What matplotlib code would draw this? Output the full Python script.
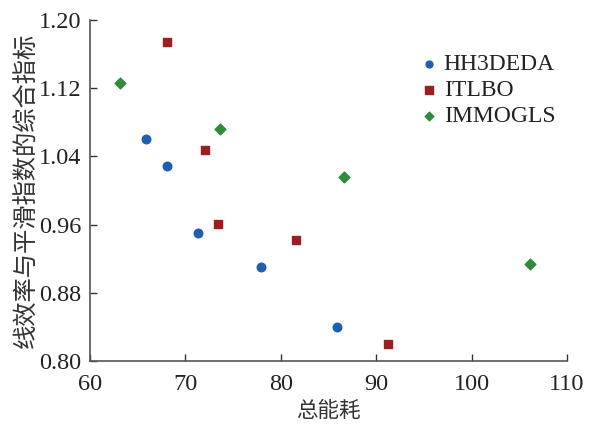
import matplotlib
matplotlib.use("Agg")
import matplotlib.pyplot as plt

# data
hh3_x = [65.9, 68.1, 71.3, 77.9, 85.9]
hh3_y = [1.060, 1.029, 0.950, 0.910, 0.840]
itlbo_x = [68.1, 72.1, 73.4, 81.6, 91.2]
itlbo_y = [1.174, 1.048, 0.961, 0.942, 0.820]
immo_x = [63.1, 73.6, 86.6, 106.1]
immo_y = [1.126, 1.072, 1.016, 0.914]

x_ticks = [60, 70, 80, 90, 100, 110]
y_ticks = [0.80, 0.88, 0.96, 1.04, 1.12, 1.20]

serif = ['Liberation Serif', 'DejaVu Serif']
cjk = ['Noto Sans CJK SC', 'DejaVu Sans']

fig = plt.figure(figsize=(5.89, 4.24), dpi=100)
ax = fig.add_axes([90 / 589, 1 - 361 / 424, (567 - 90) / 589, (361 - 20) / 424])

ax.scatter(hh3_x, hh3_y, marker='o', s=38, color='#1f5fb0', label='HH3DEDA', zorder=3)
ax.scatter(itlbo_x, itlbo_y, marker='s', s=40, color='#9b1f22', label='ITLBO', zorder=3)
ax.scatter(immo_x, immo_y, marker='D', s=30, color='#2e8b3a', label='IMMOGLS', zorder=3)

ax.set_xlim(60, 110)
ax.set_ylim(0.80, 1.20)
ax.set_xticks(x_ticks)
ax.set_yticks(y_ticks)
ax.set_xticklabels([str(v) for v in x_ticks], family=serif, fontsize=17.5)
ax.set_yticklabels([f"{v:.2f}" for v in y_ticks], family=serif, fontsize=17.5)
ax.tick_params(direction='in', length=5, width=1, colors='#333333', labelcolor='#222222')
ax.tick_params(axis='x', pad=9)
ax.tick_params(axis='y', pad=6)

for side in ['top', 'right']:
    ax.spines[side].set_visible(False)
for side in ['left', 'bottom']:
    ax.spines[side].set_color('#555555')
    ax.spines[side].set_linewidth(1.2)

ax.set_xlabel('总能耗', family=cjk, fontsize=15.5, color='#333333', labelpad=4)
ax.set_ylabel('线效率与平滑指数的综合指标', family=cjk, fontsize=17.5, color='#333333')
ax.yaxis.set_label_coords(-0.106, 0.5)

leg = ax.legend(loc='upper right', bbox_to_anchor=(1.02, 0.965), frameon=False,
                prop={'family': serif, 'size': 17}, handletextpad=0.0,
                labelspacing=0.2, markerscale=0.8, handlelength=1.2)
for t in leg.get_texts():
    t.set_color('#222222')

fig.savefig('out.png', dpi=100)
